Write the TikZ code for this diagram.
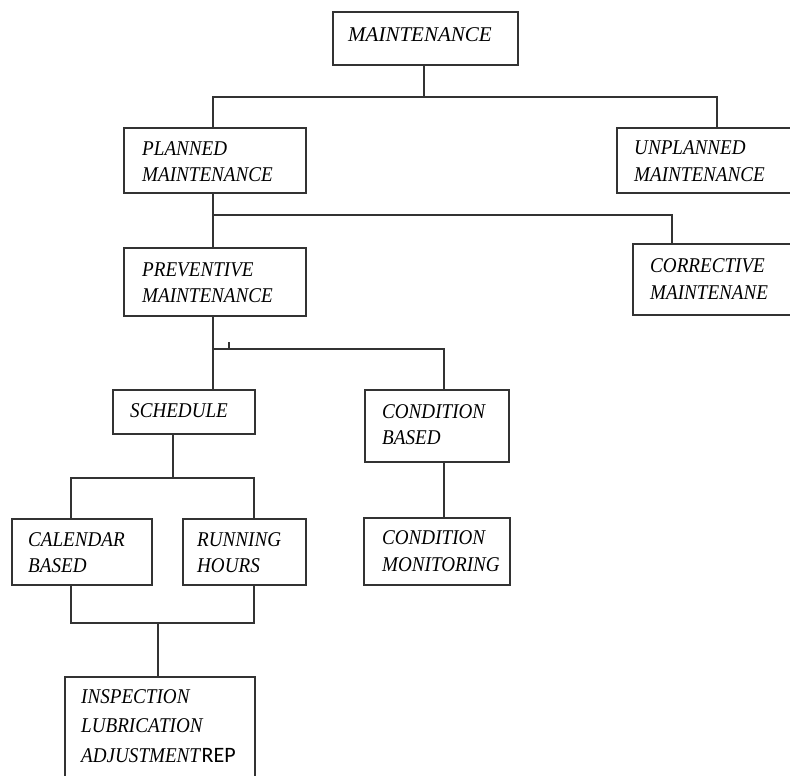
\documentclass[tikz,border=0pt]{standalone}
\usepackage{fontspec}
\setmainfont{Liberation Serif}
\newfontfamily\narrowserif{Liberation Serif}[FakeStretch=0.91]
\newfontfamily\repfont{Carlito}
\begin{document}
\begin{tikzpicture}[x=1pt,y=-1pt,
  box/.style={draw=black!80,line width=1.6pt,rectangle,inner sep=0pt,anchor=north west},
  txt/.style={anchor=base west,inner sep=0pt,font=\narrowserif\fontsize{21}{26}\selectfont\itshape},
  toptxt/.style={anchor=base west,inner sep=0pt,font=\fontsize{21}{26}\selectfont\itshape},
  conn/.style={draw=black!80,line width=1.4pt}]
\useasboundingbox (0,0) rectangle (790,776);
\clip (0,0) rectangle (790,776);
\fill[white] (0,0) rectangle (790,776);
% boxes
\node[box,minimum width=185pt,minimum height=53pt] (maint) at (332,11) {};
\node[box,minimum width=182pt,minimum height=65pt] (planned) at (123,127) {};
\node[box,minimum width=200pt,minimum height=65pt] (unplanned) at (616,127) {};
\node[box,minimum width=182pt,minimum height=68pt] (prev) at (123,247) {};
\node[box,minimum width=190pt,minimum height=71pt] (corr) at (632,243) {};
\node[box,minimum width=142pt,minimum height=44pt] (sched) at (112,389) {};
\node[box,minimum width=144pt,minimum height=72pt] (cb) at (364,389) {};
\node[box,minimum width=140pt,minimum height=66pt] (cal) at (11,518) {};
\node[box,minimum width=123pt,minimum height=66pt] (run) at (182,518) {};
\node[box,minimum width=146pt,minimum height=67pt] (cm) at (363,517) {};
\node[box,minimum width=190pt,minimum height=140pt] (insp) at (64,676) {};
% texts
\node[toptxt] (t1) at (348,42) {MAINTENANCE};
\node[txt] (t2a) at (142,155) {PLANNED};
\node[txt] (t2b) at (142,181) {MAINTENANCE};
\node[txt] (t3a) at (634,154) {UNPLANNED};
\node[txt] (t3b) at (634,181) {MAINTENANCE};
\node[txt] (t4a) at (142,276) {PREVENTIVE};
\node[txt] (t4b) at (142,302) {MAINTENANCE};
\node[txt] (t5a) at (650,272) {CORRECTIVE};
\node[txt] (t5b) at (650,299) {MAINTENANE};
\node[txt] (t6) at (130,417) {SCHEDULE};
\node[txt] (t7a) at (382,418) {CONDITION};
\node[txt] (t7b) at (382,444) {BASED};
\node[txt] (t8a) at (28,546) {CALENDAR};
\node[txt] (t8b) at (28,572) {BASED};
\node[txt] (t9a) at (197,546) {RUNNING};
\node[txt] (t9b) at (197,572) {HOURS};
\node[txt] (t10a) at (382,544) {CONDITION};
\node[txt] (t10b) at (382,571) {MONITORING};
\node[txt] (t11a) at (81,703) {INSPECTION};
\node[txt] (t11b) at (81,732) {LUBRICATION};
\node[txt] (t11c) at (81,762) {ADJUSTMENT\kern1.5pt\upshape\repfont\fontsize{22}{26}\selectfont REP};
% junction coordinates
\coordinate (j1) at (424,97);
\coordinate (jl1) at (213,97);
\coordinate (jr1) at (717,97);
\coordinate (j2) at (213,215);
\coordinate (jr2) at (672,215);
\coordinate (j3) at (213,349);
\coordinate (jr3) at (444,349);
\coordinate (tick) at (229,342);
\coordinate (j4) at (173,478);
\coordinate (jl4) at (71,478);
\coordinate (jr4) at (254,478);
\coordinate (jl5) at (71,623);
\coordinate (jr5) at (254,623);
\coordinate (j5) at (158,623);
% connectors
\draw[conn] (maint.south -| j1) -- (j1);
\draw[conn] (planned.north -| jl1) -- (jl1) -- (jr1) -- (unplanned.north -| jr1);
\draw[conn] (planned.south -| j2) -- (prev.north -| j2);
\draw[conn] (j2) -- (jr2) -- (corr.north -| jr2);
\draw[conn] (prev.south -| j3) -- (sched.north -| j3);
\draw[conn] (j3) -- (jr3) -- (cb.north -| jr3);
\draw[conn] (tick) -- (tick |- j3);
\draw[conn] (sched.south -| j4) -- (j4);
\draw[conn] (cal.north -| jl4) -- (jl4) -- (jr4) -- (run.north -| jr4);
\draw[conn] (cal.south -| jl5) -- (jl5) -- (jr5) -- (run.south -| jr5);
\draw[conn] (j5) -- (insp.north -| j5);
\draw[conn] (cb.south -| jr3) -- (cm.north -| jr3);
\end{tikzpicture}
\end{document}
